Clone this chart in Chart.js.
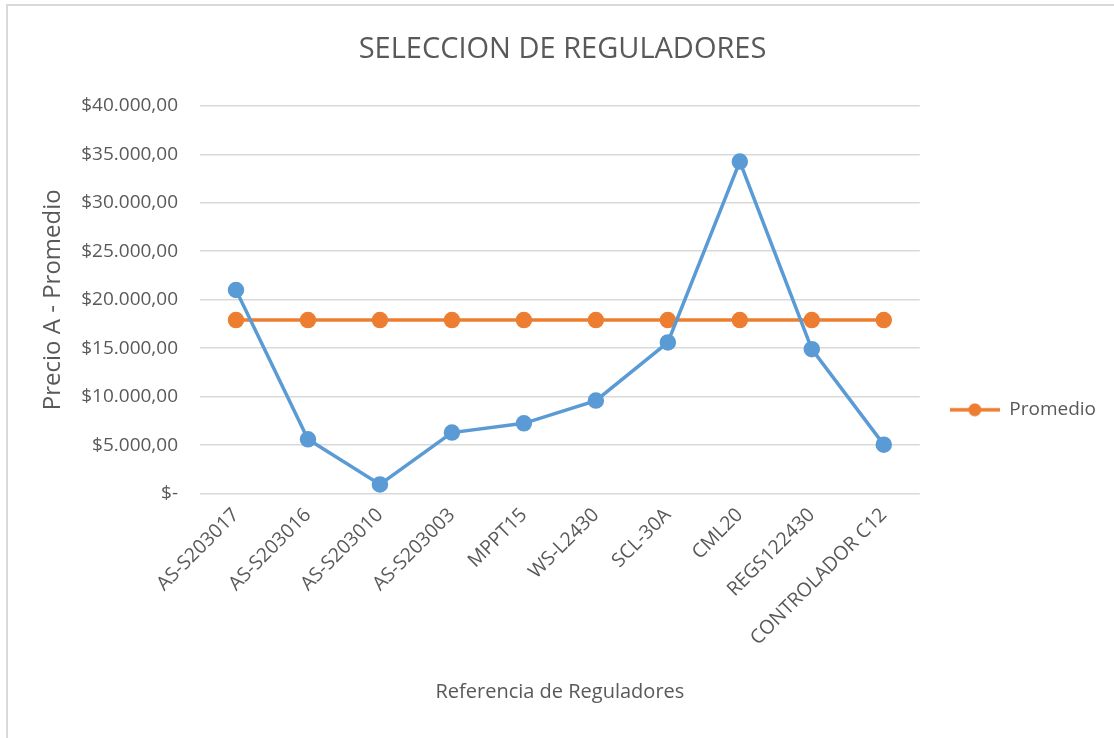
<!DOCTYPE html>
<html>
<head>
<meta charset="utf-8">
<script src="https://cdn.jsdelivr.net/npm/chart.js@4"></script>
<style>
  html, body { margin: 0; padding: 0; background: #fff; overflow: hidden; }
  #frame {
    position: absolute; left: 6px; top: 4px; width: 1130px; height: 760px;
    border-left: 2px solid #d9d9d9; border-top: 2px solid #d9d9d9;
  }
  #wrap { position: absolute; left: 0; top: 0; width: 1114px; height: 738px; }
</style>
</head>
<body>
<div id="frame"></div>
<div id="wrap"><canvas id="chart"></canvas></div>
<script>
// --- DATA ---
const categories = [
  "AS-S203017", "AS-S203016", "AS-S203010", "AS-S203003", "MPPT15",
  "WS-L2430", "SCL-30A", "CML20", "REGS122430", "CONTROLADOR C12"
];
const precioA = [21000, 5600, 950, 6300, 7250, 9600, 15600, 34250, 14900, 5050];
const promedio = [17900, 17900, 17900, 17900, 17900, 17900, 17900, 17900, 17900, 17900];
const yTicks = [0, 5000, 10000, 15000, 20000, 25000, 30000, 35000, 40000];

const BLUE = "#5b9bd5";
const ORANGE = "#ed7d31";
const TEXT = "#595959";
const FONT = "'Open Sans', sans-serif";

// legend marker: line with a dot, like Excel
function legendMarker() {
  const c = document.createElement("canvas");
  c.width = 50; c.height = 14;
  const g = c.getContext("2d");
  g.strokeStyle = ORANGE; g.lineWidth = 3.5;
  g.beginPath(); g.moveTo(0, 7); g.lineTo(50, 7); g.stroke();
  g.fillStyle = ORANGE;
  g.beginPath(); g.arc(25, 7, 6.5, 0, Math.PI * 2); g.fill();
  return c;
}

function money(v) {
  if (v === 0) return "$-";
  const s = Math.round(v).toString().replace(/\B(?=(\d{3})+(?!\d))/g, ".");
  return "$" + s + ",00";
}

new Chart(document.getElementById("chart"), {
  type: "line",
  data: {
    labels: categories,
    datasets: [
      {
        label: "Precio A",
        data: precioA,
        borderColor: BLUE,
        backgroundColor: BLUE,
        borderWidth: 3.5,
        pointRadius: 6.5,
        pointHoverRadius: 6.5,
        tension: 0,
      },
      {
        label: "Promedio",
        data: promedio,
        borderColor: ORANGE,
        backgroundColor: ORANGE,
        borderWidth: 3.5,
        pointRadius: 6.5,
        pointHoverRadius: 6.5,
        tension: 0,
      },
    ],
  },
  options: {
    responsive: true,
    maintainAspectRatio: false,
    animation: false,
    layout: { padding: { left: 19, right: 8, bottom: 30 } },
    scales: {
      x: {
        offset: true,
        grid: { display: false },
        border: { display: false },
        ticks: {
          color: TEXT,
          font: { family: FONT, size: 19.5 },
          minRotation: 45,
          maxRotation: 45,
          autoSkip: false,
          padding: 2,
        },
        title: {
          display: true,
          text: "Referencia de Reguladores",
          color: TEXT,
          font: { family: FONT, size: 20 },
          padding: { top: 28 },
        },
      },
      y: {
        min: 0,
        max: 40000,
        afterBuildTicks: (axis) => { axis.ticks = yTicks.map((v) => ({ value: v })); },
        afterFit: (axis) => { axis.width = 181; },
        grid: { color: "#d9d9d9", lineWidth: 1.5, drawTicks: false },
        border: { display: false },
        ticks: {
          color: TEXT,
          font: { family: FONT, size: 19 },
          padding: 22,
          callback: (v) => money(v),
        },
        title: {
          display: true,
          text: "Precio A - Promedio",
          color: TEXT,
          font: { family: FONT, size: 24 },
          padding: { top: 20, bottom: 0 },
        },
      },
    },
    plugins: {
      title: {
        display: true,
        text: "SELECCION DE REGULADORES",
        color: TEXT,
        font: { family: FONT, size: 29, weight: "normal" },
        padding: { top: 32, bottom: 39 },
      },
      legend: {
        position: "right",
        title: {
          display: true,
          text: " ",
          font: { family: FONT, size: 18 },
          padding: { top: 0, bottom: 90 },
        },
        labels: {
          color: TEXT,
          font: { family: FONT, size: 19 },
          usePointStyle: true,
          pointStyle: legendMarker(),
          pointStyleWidth: 50,
          boxHeight: 14,
          padding: 30,
          filter: (item) => item.text === "Promedio",
        },
      },
      tooltip: { enabled: false },
    },
  },
});
</script>
</body>
</html>
